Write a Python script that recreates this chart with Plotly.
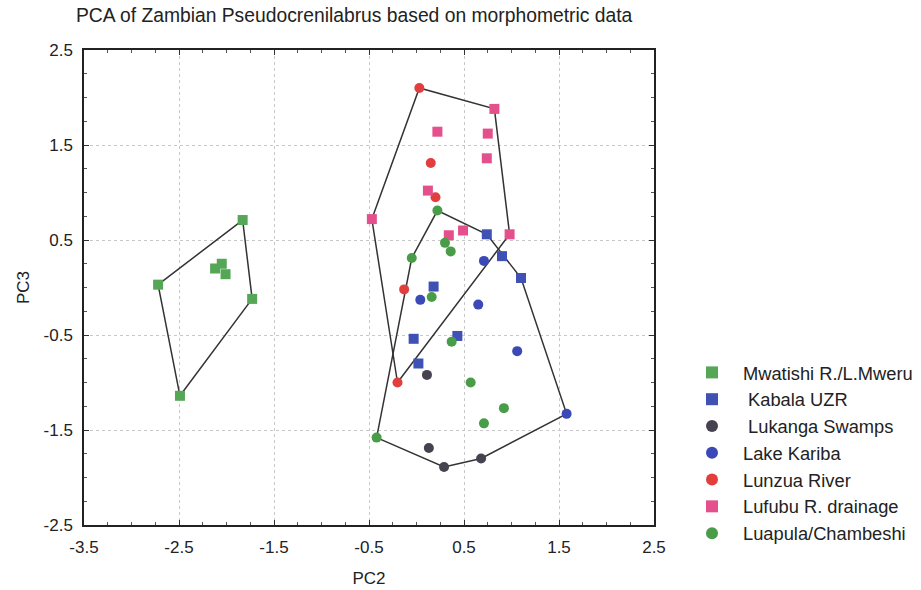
import plotly.graph_objects as go

# ---- data (PC2, PC3) ----
mwatishi_x = [-1.83, -2.72, -1.73, -2.49, -2.12, -2.05, -2.01]
mwatishi_y = [0.71, 0.03, -0.12, -1.14, 0.20, 0.25, 0.14]

kabala_x = [0.74, 0.90, 1.10, 0.18, 0.43, -0.03, 0.02]
kabala_y = [0.56, 0.33, 0.10, 0.01, -0.51, -0.54, -0.80]

lukanga_x = [0.11, 0.13, 0.29, 0.68]
lukanga_y = [-0.92, -1.69, -1.89, -1.80]

kariba_x = [0.71, 0.04, 0.65, 1.06, 1.58]
kariba_y = [0.28, -0.13, -0.18, -0.67, -1.33]

lunzua_x = [0.03, 0.15, 0.20, -0.13, -0.20]
lunzua_y = [2.10, 1.31, 0.95, -0.02, -1.00]

lufubu_x = [-0.47, 0.82, 0.22, 0.75, 0.74, 0.12, 0.34, 0.49, 0.98]
lufubu_y = [0.72, 1.88, 1.64, 1.62, 1.36, 1.02, 0.55, 0.60, 0.56]

luapula_x = [0.22, 0.30, 0.36, -0.05, 0.16, 0.37, 0.57, 0.92, 0.71, -0.42]
luapula_y = [0.81, 0.47, 0.38, 0.31, -0.10, -0.57, -1.00, -1.27, -1.43, -1.58]

groups = [
    ("Mwatishi R./L.Mweru", mwatishi_x, mwatishi_y, "square", "#55a656"),
    (" Kabala UZR", kabala_x, kabala_y, "square", "#3f51b5"),
    (" Lukanga Swamps", lukanga_x, lukanga_y, "circle", "#47424f"),
    ("Lake Kariba", kariba_x, kariba_y, "circle", "#3b49b8"),
    ("Lunzua River", lunzua_x, lunzua_y, "circle", "#e23e3e"),
    ("Lufubu R. drainage", lufubu_x, lufubu_y, "square", "#e4508c"),
    ("Luapula/Chambeshi", luapula_x, luapula_y, "circle", "#4a9d48"),
]

x_ticks = [-3.5, -2.5, -1.5, -0.5, 0.5, 1.5, 2.5]
x_labels = ["-3.5", "-2.5", "-1.5", "-0.5", "0.5", "1.5", "2.5"]
y_ticks = [-2.5, -1.5, -0.5, 0.5, 1.5, 2.5]
y_labels = ["-2.5", "-1.5", "-0.5", "0.5", "1.5", "2.5"]


def hull(xs, ys):
    pts = sorted(set(zip(xs, ys)))
    if len(pts) < 3:
        return pts

    def cross(o, a, b):
        return (a[0] - o[0]) * (b[1] - o[1]) - (a[1] - o[1]) * (b[0] - o[0])

    lower, upper = [], []
    for p in pts:
        while len(lower) >= 2 and cross(lower[-2], lower[-1], p) <= 0:
            lower.pop()
        lower.append(p)
    for p in reversed(pts):
        while len(upper) >= 2 and cross(upper[-2], upper[-1], p) <= 0:
            upper.pop()
        upper.append(p)
    h = lower[:-1] + upper[:-1]
    return h + [h[0]]


hull_sets = [
    (mwatishi_x, mwatishi_y),
    (lunzua_x + lufubu_x, lunzua_y + lufubu_y),
    (kabala_x + lukanga_x + kariba_x + luapula_x,
     kabala_y + lukanga_y + kariba_y + luapula_y),
]

fig = go.Figure()
for hx, hy in hull_sets:
    h = hull(hx, hy)
    fig.add_trace(go.Scatter(
        x=[p[0] for p in h], y=[p[1] for p in h], mode="lines",
        line=dict(color="#333333", width=1.5), showlegend=False,
        hoverinfo="skip"))

for name, xs, ys, sym, col in groups:
    fig.add_trace(go.Scatter(
        x=xs, y=ys, mode="markers", name=name,
        marker=dict(symbol=sym, color=col, size=10, line=dict(width=0))))

FONT = "Liberation Sans, Arial"
axis_common = dict(
    showline=True, linecolor="#222222", linewidth=1.5, mirror="ticks",
    showgrid=True, gridcolor="#c8c8c8", griddash="dot", gridwidth=1,
    zeroline=False, ticks="inside", ticklen=5, tickcolor="#333333",
    tickmode="array", ticklabelstandoff=6,
    tickfont=dict(family=FONT, size=17, color="#222222"),
)

fig.update_layout(
    width=921, height=590,
    margin=dict(l=84, r=267, t=50, b=65, autoexpand=False),
    paper_bgcolor="white", plot_bgcolor="white",
    title=dict(text="PCA of Zambian Pseudocrenilabrus based on morphometric data",
               x=76 / 921, xanchor="left", y=1 - 15 / 590, yanchor="middle",
               font=dict(family=FONT, size=19.3, color="#222222")),
    xaxis=dict(range=[x_ticks[0], x_ticks[-1]], tickvals=x_ticks,
               ticktext=x_labels,
               minor=dict(tickmode="linear", tick0=x_ticks[0], dtick=0.25,
                          ticks="inside", ticklen=3, tickcolor="#555555",
                          showgrid=False),
               title=dict(text="PC2", standoff=16,
                          font=dict(family=FONT, size=17, color="#222222")),
               **axis_common),
    yaxis=dict(range=[y_ticks[0], y_ticks[-1]], tickvals=y_ticks,
               ticktext=y_labels,
               minor=dict(tickmode="linear", tick0=y_ticks[0], dtick=0.25,
                          ticks="inside", ticklen=3, tickcolor="#555555",
                          showgrid=False),
               title=dict(text="PC3", standoff=10,
                          font=dict(family=FONT, size=17, color="#222222")),
               **axis_common),
    legend=dict(x=(681 - 84) / 570, y=(525 - 354) / 475, xanchor="left",
                yanchor="top", itemwidth=52,
                font=dict(family=FONT, size=18.3, color="#222222"),
                bgcolor="rgba(0,0,0,0)", itemsizing="constant",
                tracegroupgap=0),
)

fig.write_html("out.html")
